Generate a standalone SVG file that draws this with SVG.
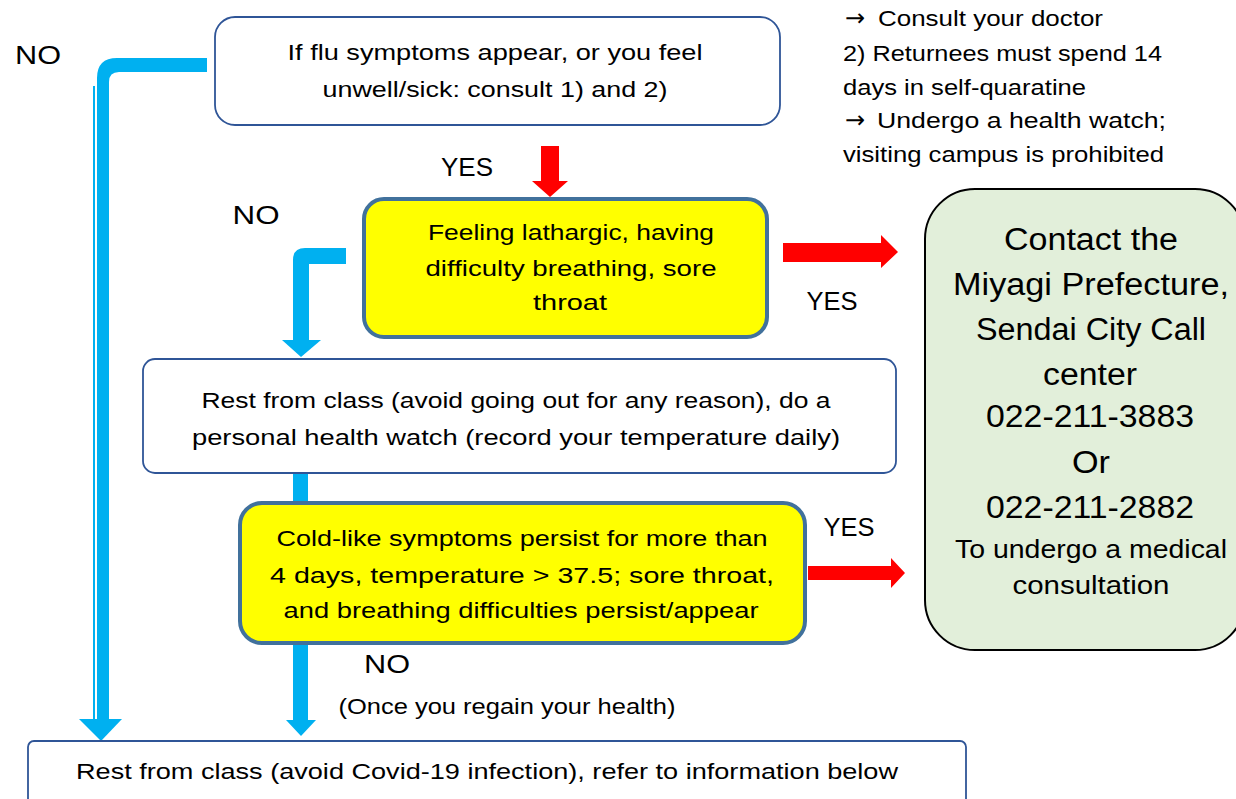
<svg xmlns="http://www.w3.org/2000/svg" width="1236" height="799" viewBox="0 0 1236 799">
<style>
text{font-family:"Liberation Sans",Arial,sans-serif;fill:#000;}
.t{font-size:22px;text-anchor:middle;}
.l{font-size:22px;}
.ar{font-size:24px;font-family:"DejaVu Sans",sans-serif;}
.lab{font-size:26px;text-anchor:middle;}
.g{font-size:31px;text-anchor:middle;}
.gs{font-size:25px;text-anchor:middle;}
.blue{fill:#00B0F0;}
.red{fill:#FF0000;}
.wbox{fill:#fff;stroke:#2F5597;stroke-width:1.8;}
.ybox{fill:#FFFF00;stroke:#41719C;stroke-width:4;}
</style>
<rect width="1236" height="799" fill="#fff"/>
<g id="connectors">
  <path class="blue" d="M207,58 H117 Q97,58 97,78 V720 H109 V82 Q109,72 119,72 H207 Z"/>
  <path d="M94,86 V720" stroke="#00B0F0" stroke-width="2" fill="none"/>
  <polygon class="blue" points="79,719 122,719 101,741"/>
  <path class="blue" d="M346,248 H305 Q293,248 293,260 V341 H309 V264 H346 Z"/>
  <polygon class="blue" points="282,340 321,340 301,357"/>
  <rect class="blue" x="293" y="470" width="15" height="251"/>
  <polygon class="blue" points="286,720 316,720 301,736"/>
  <polygon class="red" points="541,146 559,146 559,181 568,181 550,197 532,181 541,181"/>
  <polygon class="red" points="783,243 881,243 881,235 898,252 881,268 881,262 783,262"/>
  <polygon class="red" points="808,566 891,566 891,558 905,573 891,588 891,580 808,580"/>
</g>
<g id="labels">
  <text class="lab" x="38" y="64" textLength="46" lengthAdjust="spacingAndGlyphs">NO</text>
  <text class="lab" x="467" y="176" textLength="52" lengthAdjust="spacingAndGlyphs">YES</text>
  <text class="lab" x="256" y="224" textLength="47" lengthAdjust="spacingAndGlyphs">NO</text>
  <text class="lab" x="832" y="310" textLength="51" lengthAdjust="spacingAndGlyphs">YES</text>
  <text class="lab" x="849" y="536" textLength="51" lengthAdjust="spacingAndGlyphs">YES</text>
  <text class="lab" x="387" y="673" textLength="46" lengthAdjust="spacingAndGlyphs">NO</text>
  <text class="t" x="507" y="714" textLength="337" lengthAdjust="spacingAndGlyphs">(Once you regain your health)</text>
</g>
<g id="note">
  <text class="l" x="845" y="26"><tspan class="ar">→</tspan><tspan x="878" textLength="225" lengthAdjust="spacingAndGlyphs">Consult your doctor</tspan></text>
  <text class="l" x="843" y="61" textLength="319" lengthAdjust="spacingAndGlyphs">2) Returnees must spend 14</text>
  <text class="l" x="843" y="95" textLength="243" lengthAdjust="spacingAndGlyphs">days in self-quaratine</text>
  <text class="l" x="845" y="128"><tspan class="ar">→</tspan><tspan x="877" textLength="289" lengthAdjust="spacingAndGlyphs">Undergo a health watch;</tspan></text>
  <text class="l" x="843" y="162" textLength="321" lengthAdjust="spacingAndGlyphs">visiting campus is prohibited</text>
</g>
<g id="node-flu">
  <rect class="wbox" x="215" y="17" width="565" height="108" rx="20"/>
  <text class="t" x="495" y="60" textLength="415" lengthAdjust="spacingAndGlyphs">If flu symptoms appear, or you feel</text>
  <text class="t" x="495" y="97" textLength="345" lengthAdjust="spacingAndGlyphs">unwell/sick: consult 1) and 2)</text>
</g>
<g id="node-lethargic">
  <rect class="ybox" x="364" y="199" width="403" height="138" rx="20"/>
  <text class="t" x="571" y="240" textLength="286" lengthAdjust="spacingAndGlyphs">Feeling lathargic, having</text>
  <text class="t" x="571" y="276" textLength="291" lengthAdjust="spacingAndGlyphs">difficulty breathing, sore</text>
  <text class="t" x="570" y="310" textLength="74" lengthAdjust="spacingAndGlyphs">throat</text>
</g>
<g id="node-rest">
  <rect class="wbox" x="143" y="359" width="753" height="114" rx="12"/>
  <text class="t" x="516" y="408" textLength="629" lengthAdjust="spacingAndGlyphs">Rest from class (avoid going out for any reason), do a</text>
  <text class="t" x="516" y="445" textLength="648" lengthAdjust="spacingAndGlyphs">personal health watch (record your temperature daily)</text>
</g>
<g id="node-cold">
  <rect class="ybox" x="240" y="503" width="565" height="140" rx="22"/>
  <text class="t" x="522" y="546" textLength="491" lengthAdjust="spacingAndGlyphs">Cold-like symptoms persist for more than</text>
  <text class="t" x="522" y="583" textLength="504" lengthAdjust="spacingAndGlyphs">4 days, temperature &gt; 37.5; sore throat,</text>
  <text class="t" x="521" y="618" textLength="475" lengthAdjust="spacingAndGlyphs">and breathing difficulties persist/appear</text>
</g>
<g id="node-contact">
  <rect x="925" y="189" width="320" height="461" rx="50" fill="#E2EFDA" stroke="#000" stroke-width="2"/>
  <text class="g" x="1091" y="250" textLength="174" lengthAdjust="spacingAndGlyphs">Contact the</text>
  <text class="g" x="1091" y="295" textLength="276" lengthAdjust="spacingAndGlyphs">Miyagi Prefecture,</text>
  <text class="g" x="1091" y="340" textLength="230" lengthAdjust="spacingAndGlyphs">Sendai City Call</text>
  <text class="g" x="1090" y="385" textLength="94" lengthAdjust="spacingAndGlyphs">center</text>
  <text class="g" x="1090" y="427" textLength="208" lengthAdjust="spacingAndGlyphs">022-211-3883</text>
  <text class="g" x="1091" y="473" textLength="38" lengthAdjust="spacingAndGlyphs">Or</text>
  <text class="g" x="1090" y="518" textLength="208" lengthAdjust="spacingAndGlyphs">022-211-2882</text>
  <text class="gs" x="1091" y="558" textLength="272" lengthAdjust="spacingAndGlyphs">To undergo a medical</text>
  <text class="gs" x="1091" y="594" textLength="157" lengthAdjust="spacingAndGlyphs">consultation</text>
</g>
<g id="node-bottom">
  <rect class="wbox" x="28" y="741" width="938" height="80" rx="6"/>
  <text class="t" x="487" y="779" textLength="822" lengthAdjust="spacingAndGlyphs">Rest from class (avoid Covid-19 infection), refer to information below</text>
</g>
</svg>
